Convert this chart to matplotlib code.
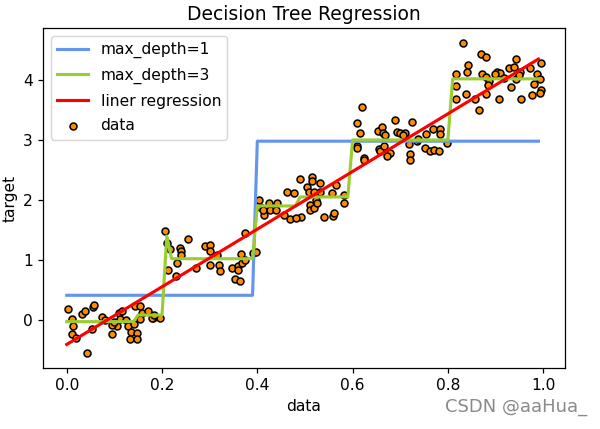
import matplotlib
matplotlib.use("Agg")
from matplotlib import pyplot as plt

# scatter points, grouped by step
data_x = [
    0.003, 0.011, 0.014, 0.011, 0.020, 0.032, 0.038, 0.055, 0.053, 0.042,
    0.074, 0.080, 0.095, 0.105, 0.110, 0.112, 0.125, 0.129, 0.134, 0.132,
    0.147, 0.147, 0.141, 0.144, 0.154, 0.159, 0.154, 0.171, 0.182, 0.195,
    0.094, 0.100, 0.116, 0.178, 0.184, 0.058,
    0.207, 0.254, 0.210, 0.217, 0.237, 0.240, 0.240, 0.232, 0.213, 0.230,
    0.272, 0.290, 0.300, 0.300, 0.315, 0.300, 0.320, 0.322, 0.347, 0.360,
    0.360, 0.354, 0.364, 0.366, 0.375, 0.392, 0.398, 0.368, 0.375,
    0.403, 0.406, 0.413, 0.412, 0.424, 0.426, 0.442, 0.440, 0.455, 0.468,
    0.462, 0.476, 0.489, 0.492, 0.482, 0.505, 0.515, 0.515, 0.508, 0.532,
    0.531, 0.520, 0.524, 0.511, 0.510, 0.520, 0.526, 0.557, 0.566, 0.540,
    0.559, 0.581, 0.581, 0.560,
    0.620, 0.610, 0.616, 0.609, 0.610, 0.623, 0.624, 0.653, 0.662, 0.664,
    0.669, 0.688, 0.693, 0.699, 0.711, 0.725, 0.655, 0.658, 0.672, 0.679,
    0.672, 0.718, 0.721, 0.721, 0.735, 0.753, 0.763, 0.770, 0.782, 0.769,
    0.783, 0.784, 0.755, 0.798, 0.737, 0.705, 0.666,
    0.832, 0.870, 0.879, 0.842, 0.840, 0.816, 0.944, 0.928, 0.938, 0.903,
    0.910, 0.898, 0.872, 0.879, 0.886, 0.951, 0.973, 0.996, 0.986, 0.993,
    0.944, 0.980, 0.816, 0.839, 0.816, 0.879, 0.856, 0.866, 0.908, 0.933,
    0.954, 0.977, 0.996, 0.993, 0.917, 0.885, 0.949,
]
data_y = [
    0.18, 0.02, -0.10, -0.23, -0.30, 0.105, 0.14, 0.22, -0.15, -0.545,
    0.055, 0.00, -0.23, -0.10, 0.11, 0.02, -0.01, -0.11, -0.21, -0.32,
    -0.22, -0.32, -0.07, 0.23, 0.23, 0.11, 0.01, 0.14, 0.03, 0.03,
    -0.08, -0.03, 0.14, 0.03, 0.08, 0.25,
    1.48, 1.35, 1.28, 1.18, 1.205, 1.155, 1.09, 0.945, 0.83, 0.73,
    0.86, 1.23, 1.25, 1.155, 1.08, 0.92, 0.92, 0.82, 0.86, 0.90,
    0.83, 0.68, 0.655, 1.10, 1.445, 1.11, 1.14, 0.945, 1.00,
    2.00, 1.89, 1.75, 1.83, 1.945, 1.83, 1.955, 1.83, 1.75, 1.68,
    2.14, 2.11, 2.35, 1.72, 1.695, 2.22, 2.39, 2.31, 2.13, 2.29,
    2.14, 2.14, 2.00, 1.92, 1.83, 1.86, 1.955, 2.11, 2.25, 1.71,
    1.73, 2.08, 1.955, 1.78,
    3.555, 3.29, 3.12, 2.90, 2.87, 2.705, 2.66, 3.15, 3.22, 3.12,
    3.08, 3.33, 3.14, 3.12, 3.11, 3.305, 2.845, 2.82, 2.805, 2.79,
    2.73, 2.93, 2.77, 2.67, 2.98, 2.86, 2.82, 2.83, 2.82, 3.18,
    3.18, 3.10, 3.095, 2.955, 3.02, 3.08, 2.90,
    4.61, 4.43, 4.38, 4.25, 4.14, 4.10, 4.345, 4.195, 4.21, 4.14,
    4.12, 4.10, 4.10, 4.055, 3.99, 4.14, 4.195, 4.28, 4.10, 4.01,
    4.01, 3.93, 3.90, 3.76, 3.68, 3.76, 3.68, 3.50, 3.68, 3.88,
    3.68, 3.75, 3.83, 3.78, 4.04, 3.91, 4.08,
]

# fitted curves (vertices)
depth1_x = [0.0, 0.39, 0.40, 0.99]
depth1_y = [0.41, 0.41, 2.98, 2.98]

depth3_x = [0.0, 0.14, 0.15, 0.20, 0.21, 0.22, 0.39, 0.40, 0.48, 0.49,
            0.59, 0.60, 0.80, 0.81, 0.99]
depth3_y = [-0.03, -0.03, 0.08, 0.08, 1.40, 1.02, 1.02, 1.90, 1.90, 2.05,
            2.05, 3.00, 3.00, 4.02, 4.02]

linear_x = [0.0, 0.99]
linear_y = [-0.41, 4.35]

plt.rcParams['font.family'] = ['DejaVu Sans']
plt.rcParams['font.size'] = 11.2

fig = plt.figure(figsize=(6, 4.29), dpi=100)
ax = fig.add_axes([43/600, 61/429, 522/600, 340/429])

# lines first so the legend lists them before the scatter (lines still sit on top via zorder)
ax.plot(depth1_x, depth1_y, color="cornflowerblue", label="max_depth=1", linewidth=2.25)
ax.plot(depth3_x, depth3_y, color="yellowgreen", label="max_depth=3", linewidth=2.25)
ax.plot(linear_x, linear_y, color="red", label="liner regression", linewidth=2.25)
ax.scatter(data_x, data_y, s=25, edgecolor="black", linewidths=1.1,
           c="darkorange", label="data")

ax.set_xlabel("data", fontsize=11.2)
ax.set_ylabel("target", fontsize=11.2)
ax.set_title("Decision Tree Regression", fontsize=13.5)
ax.legend(loc="upper left", fontsize=11.2, labelspacing=0.62)
for sp in ax.spines.values():
    sp.set_linewidth(0.9)
ax.tick_params(width=0.9, length=3.9)

fig.text(0.978, 0.03, "CSDN @aaHua_", ha="right", va="bottom",
         fontsize=13, color="#8a8a8a")

fig.savefig("out.png", dpi=100)
